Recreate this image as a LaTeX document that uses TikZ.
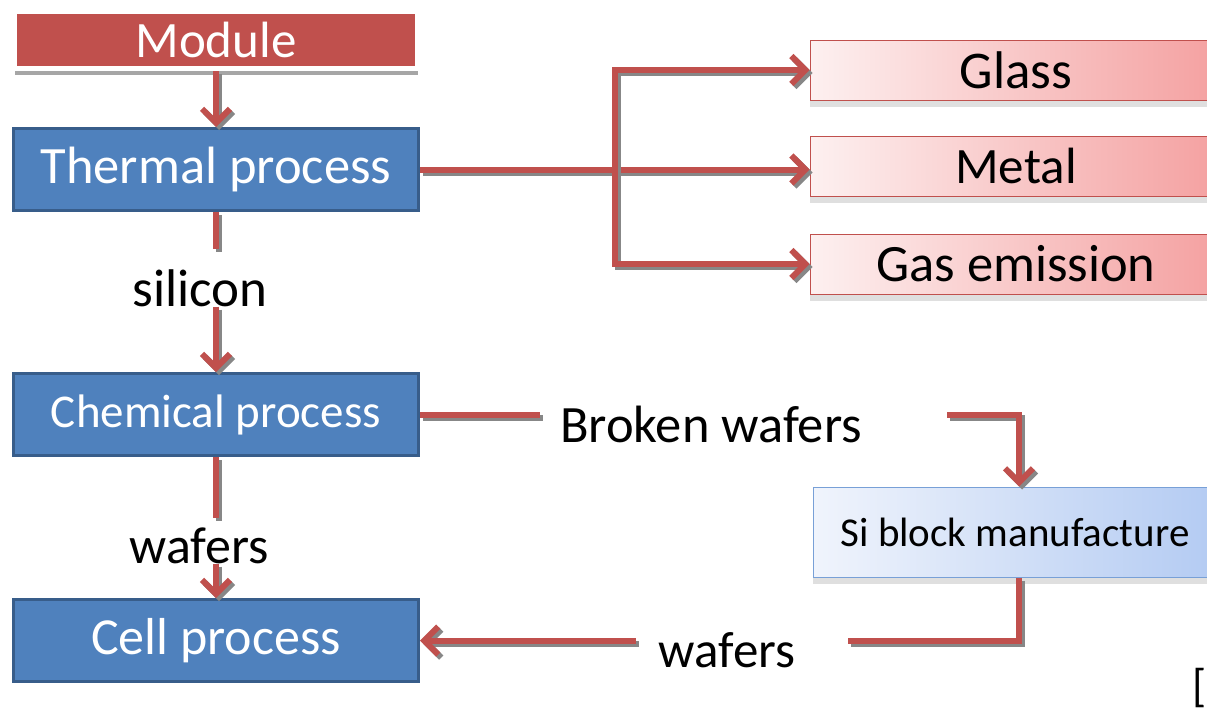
\documentclass[tikz,border=0pt]{standalone}
\usepackage{fontspec}
\setmainfont{Carlito}
\usetikzlibrary{arrows.meta,shadows}

\definecolor{flowred}{RGB}{192,80,77}
\definecolor{boxblue}{RGB}{79,129,189}
\definecolor{boxblueline}{RGB}{56,93,138}
\definecolor{shadowgray}{RGB}{135,135,135}
\definecolor{pinkleft}{RGB}{253,240,240}
\definecolor{pinkright}{RGB}{244,160,160}
\definecolor{skyleft}{RGB}{240,244,252}
\definecolor{skyright}{RGB}{178,202,242}
\definecolor{skyline}{RGB}{120,160,215}

\newcommand{\fsz}[1]{\fontsize{#1}{#1}\selectfont}

\tikzset{
  modbox/.style={draw=white, line width=5pt, fill=flowred, text=white, inner sep=0pt,
    minimum width=403pt, minimum height=57pt,
    drop shadow={shadow xshift=0pt, shadow yshift=-6pt, fill=gray!70, opacity=1}},
  procbox/.style={draw=boxblueline, line width=3pt, fill=boxblue, text=white, inner sep=0pt,
    minimum width=405pt, minimum height=82pt},
  outbox/.style={draw=flowred, line width=1pt, left color=pinkleft, right color=pinkright,
    inner sep=0pt, minimum width=412pt, minimum height=60pt,
    drop shadow={shadow xshift=0pt, shadow yshift=-7pt, fill=gray!25, opacity=1}},
  siboxstyle/.style={draw=skyline, line width=1pt, left color=skyleft, right color=skyright,
    inner sep=0pt, minimum width=412pt, minimum height=90pt,
    drop shadow={shadow xshift=0pt, shadow yshift=-7pt, fill=gray!25, opacity=1}},
  flowtext/.style={inner sep=0pt, text=black},
  flow/.style={draw=flowred, line width=6pt,
    preaction={draw=shadowgray, line width=6pt, transform canvas={shift={(3pt,-3pt)}}}},
  >={Straight Barb[length=14pt, width=28pt, sharp]}
}

\begin{document}
\begin{tikzpicture}[x=1pt,y=-1pt]
\useasboundingbox (0,0) rectangle (1207,715);
\clip (0,0) rectangle (1207,715);

%Shape: Rectangle [module]
\node[modbox] (module) at (216,40) {\fsz{51}Module};
%Shape: Rectangle [process boxes]
\node[procbox] (thermal) at (216,169.5) {\fsz{52.5}Thermal process};
\node[procbox] (chemical) at (216,414.5) {\fsz{47}Chemical process};
\node[procbox] (cell) at (216,640.5) {\fsz{52}Cell process};

%Shape: Rectangle [outputs]
\node[outbox] (glass) at (1016,70) {\fsz{53}Glass};
\node[outbox] (metal) at (1016,166) {\fsz{51}Metal};
\node[outbox] (gas) at (1016,264) {\fsz{52.5}Gas emission};
\node[siboxstyle] (siblock) at (1019,532) {\fsz{41}\hspace*{-8pt}Si block manufacture};

% Text Node
\node[flowtext, anchor=base] (silicon) at (200,306) {\fsz{53}silicon};
\node[flowtext, anchor=base] (wafersa) at (199,563) {\fsz{52}wafers};
\node[flowtext, anchor=base] (broken) at (711,442) {\fsz{52.5}Broken wafers};
\node[flowtext, anchor=base] (wafersb) at (727,667) {\fsz{51}wafers};
\node[flowtext, anchor=base west] (bracket) at (1192,701) {\fsz{46}[};

%Straight Lines
\coordinate (split) at (615,170);
\draw[flow,->] (module) -- (thermal);
\draw[flow,->] (thermal.east) -- (thermal.east -| metal.west);
\draw[flow,<->] (glass.west) -| (split) |- (gas.west);

\draw[flow, shorten >=20pt] (thermal.south) -- (thermal.south |- silicon.north);
\draw[flow,->] (thermal.south |- silicon.south) -- (chemical.north);

\draw[flow, shorten >=9pt] (chemical.south) -- (chemical.south |- wafersa.north);
\draw[flow,->] (chemical.south |- wafersa.south) -- (cell.north);

\draw[flow] (chemical.east) -- ([xshift=-20pt]broken.west |- chemical.east);
\draw[flow,->] ([xshift=85pt]broken.east |- chemical.east) -| (siblock.north);

\draw[flow] (siblock.south) |- ([xshift=53pt]wafersb.east |- cell.east);
\draw[flow,->] ([xshift=-23pt]wafersb.west |- cell.east) -- (cell.east);

\end{tikzpicture}
\end{document}
